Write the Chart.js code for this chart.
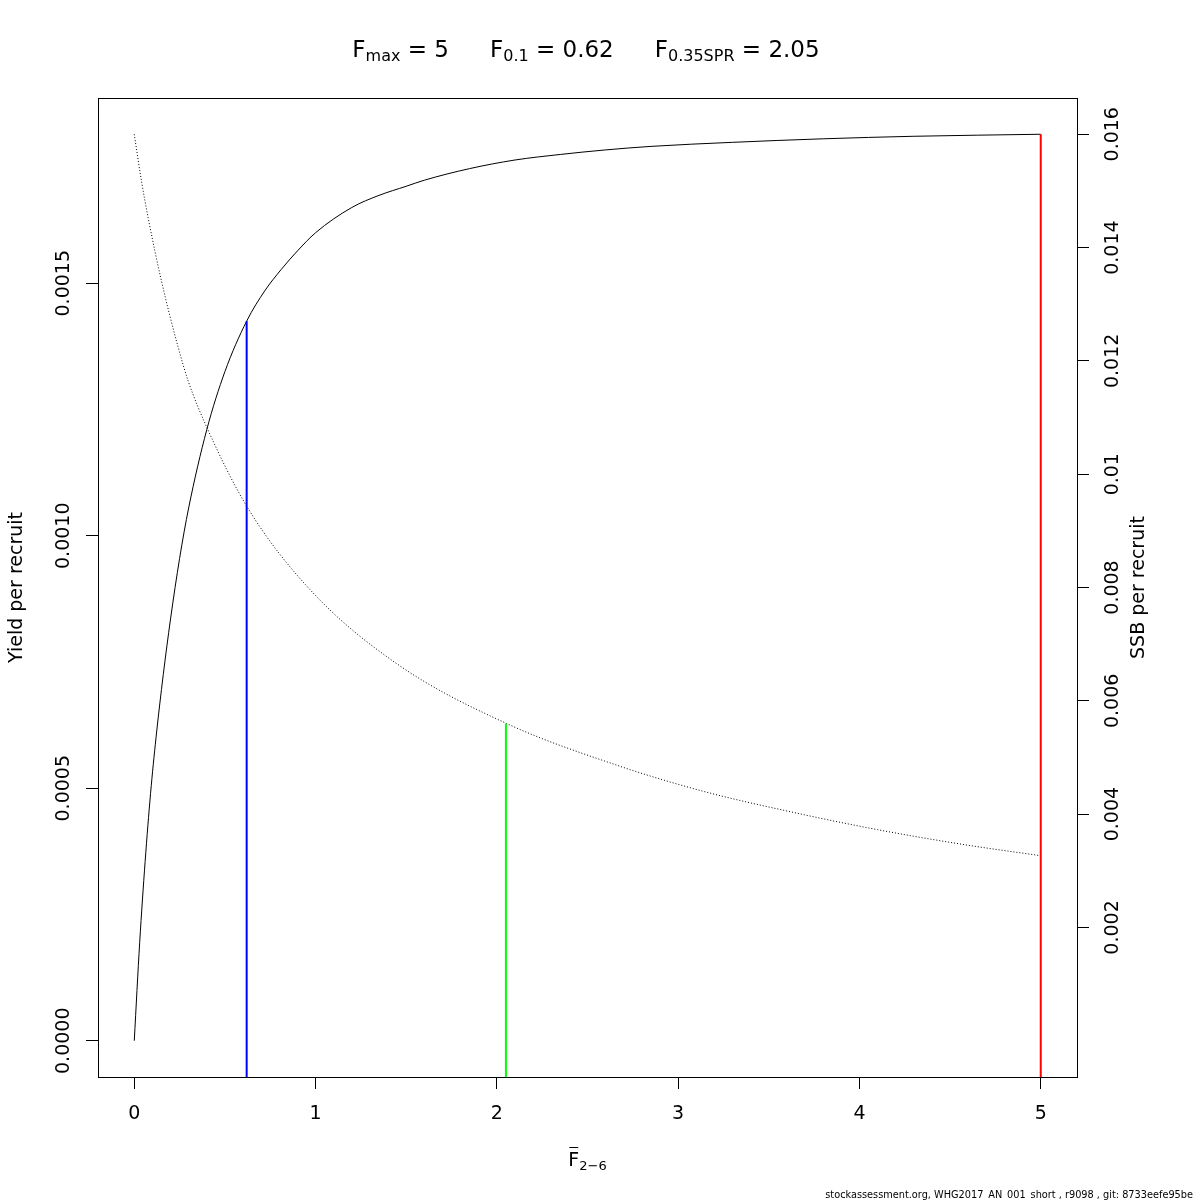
<!DOCTYPE html>
<html>
<head>
<meta charset="utf-8">
<script src="https://cdn.jsdelivr.net/npm/chart.js@4.4.0/dist/chart.umd.min.js"></script>
<style>
html,body{margin:0;padding:0;background:#fff;}
#wrap{width:1200px;height:1200px;position:relative;}
</style>
</head>
<body>
<div id="wrap"><canvas id="c"></canvas></div>
<script>
// ---- data ----
const yieldF    = [0, 0.03, 0.06, 0.09, 0.12, 0.16, 0.2, 0.25, 0.3, 0.4, 0.5, 0.62, 0.72, 0.81, 0.9, 1.0, 1.2, 1.35, 1.5, 1.6, 1.85, 2.1, 2.35, 2.6, 2.85, 3.3, 3.8, 4.3, 5.0];
const yieldVals = [0, 0.000195, 0.000355, 0.000490, 0.000600, 0.000725, 0.000835, 0.000955, 0.001055, 0.001210, 0.001325, 0.001425, 0.001485, 0.001527, 0.001564, 0.001600, 0.001650, 0.001674, 0.001692, 0.001704, 0.001727, 0.001744, 0.001755, 0.001764, 0.001771, 0.001779, 0.001786, 0.001791, 0.001795];
const ssbF      = [0, 0.04, 0.077, 0.15, 0.243, 0.298, 0.397, 0.623, 0.976, 1.45, 2.053, 2.665, 3.142, 3.622, 4.101, 4.581, 5.0];
const ssbVals   = [0.01600, 0.01517, 0.01452, 0.01341, 0.01223, 0.01164, 0.01085, 0.00942, 0.00794, 0.00665, 0.00560, 0.00486, 0.00440, 0.00404, 0.003725, 0.00346, 0.003266];
const refNames  = ['F0.1', 'F0.35SPR', 'Fmax'];
const refF      = [0.62, 2.05, 5];
const refTop    = [0.001425, 0.00560, 0.001795];
const refAxis   = ['y', 'y2', 'y'];
const refColors = ['#0000ff', '#00ff00', '#ff0000'];
const xTicks     = [0, 1, 2, 3, 4, 5];
const yieldTicks = [0, 0.0005, 0.0010, 0.0015];
const ssbTicks   = [0.002, 0.004, 0.006, 0.008, 0.010, 0.012, 0.014, 0.016];
const xRange     = [-0.2, 5.2];
const yRange     = [-0.0000718, 0.0018668];
const y2Range    = [-0.00064, 0.01664];
const footer = 'stockassessment.org, WHG2017_AN_001_short , r9098 , git: 8733eefe95be';

const FONT = 'DejaVu Sans';
const TICK_SIZE = 19;

const mctx = document.createElement('canvas').getContext('2d');
mctx.font = TICK_SIZE + 'px ' + FONT;
const wideL = Math.max(...yieldTicks.map(v => mctx.measureText(v.toFixed(4)).width));
const wideR = Math.max(...ssbTicks.map(v => mctx.measureText(String(+v.toFixed(3))).width));

function pts(xs, ys) { return xs.map((x, i) => ({x: x, y: ys[i]})); }

const datasets = [];
refF.forEach((f, i) => {
  const lo = refAxis[i] === 'y' ? yRange[0] : y2Range[0];
  datasets.push({
    label: refNames[i],
    data: [{x: f, y: lo}, {x: f, y: refTop[i]}],
    yAxisID: refAxis[i],
    borderColor: refColors[i],
    borderWidth: 2,
    pointRadius: 0,
    showLine: true
  });
});
datasets.push({
  label: 'Yield per recruit',
  data: pts(yieldF, yieldVals),
  yAxisID: 'y',
  borderColor: '#000',
  borderWidth: 1,
  pointRadius: 0,
  showLine: true,
  cubicInterpolationMode: 'monotone'
});
datasets.push({
  label: 'SSB per recruit',
  data: pts(ssbF, ssbVals),
  yAxisID: 'y2',
  borderColor: '#000',
  borderWidth: 1,
  borderDash: [1, 2],
  pointRadius: 0,
  showLine: true,
  cubicInterpolationMode: 'monotone'
});

function drawParts(ctx, parts, startX, baseY) {
  let x = startX;
  parts.forEach(p => {
    if (p.gap) { x += p.gap; return; }
    ctx.font = p.size + 'px ' + FONT;
    ctx.fillText(p.t, x, baseY + (p.dy || 0));
    x += ctx.measureText(p.t).width;
  });
}
function partsWidth(ctx, parts) {
  let w = 0;
  parts.forEach(p => {
    if (p.gap) { w += p.gap; return; }
    ctx.font = p.size + 'px ' + FONT;
    w += ctx.measureText(p.t).width;
  });
  return w;
}

const textPlugin = {
  id: 'textPlugin',
  afterDraw(chart) {
    const ctx = chart.ctx;
    const a = chart.chartArea;
    ctx.save();
    ctx.strokeStyle = '#000';
    ctx.lineWidth = 1;
    ctx.strokeRect(Math.round(a.left) + 0.5, Math.round(a.top) + 0.5,
                   Math.round(a.right) - Math.round(a.left), Math.round(a.bottom) - Math.round(a.top));
    ctx.fillStyle = '#000';
    ctx.textAlign = 'left';
    ctx.textBaseline = 'alphabetic';
    const cx = (a.left + a.right) / 2;
    const cy = (a.top + a.bottom) / 2;
    const title = [
      {t: 'F', size: 23}, {t: 'max', size: 16, dy: 4}, {t: ' = 5', size: 23},
      {gap: 41},
      {t: 'F', size: 23}, {t: '0.1', size: 16, dy: 4}, {t: ' = 0.62', size: 23},
      {gap: 41},
      {t: 'F', size: 23}, {t: '0.35SPR', size: 16, dy: 4}, {t: ' = 2.05', size: 23}
    ];
    drawParts(ctx, title, cx - partsWidth(ctx, title) / 2 - 1.5, 57);
    const xt = [{t: 'F', size: 19}, {t: '2\u22126', size: 13, dy: 4}];
    const xs = cx - partsWidth(ctx, xt) / 2;
    drawParts(ctx, xt, xs, 1166);
    ctx.font = '19px ' + FONT;
    const fw = ctx.measureText('F').width;
    ctx.beginPath();
    ctx.moveTo(xs + 1, 1147.5);
    ctx.lineTo(xs + fw - 1, 1147.5);
    ctx.stroke();
    ctx.font = '19px ' + FONT;
    ctx.textAlign = 'center';
    ctx.save();
    ctx.translate(21.5, cy);
    ctx.rotate(-Math.PI / 2);
    ctx.fillText('Yield per recruit', 0, 0);
    ctx.restore();
    ctx.save();
    ctx.translate(1144, cy);
    ctx.rotate(-Math.PI / 2);
    ctx.fillText('SSB per recruit', 0, 0);
    ctx.restore();
    ctx.font = '10px ' + FONT;
    const fwid = ctx.measureText(footer).width;
    const fs = 10 * 368 / fwid;
    ctx.font = fs.toFixed(2) + 'px ' + FONT;
    ctx.textAlign = 'right';
    ctx.fillText(footer, 1193, 1198);
    ctx.restore();
  }
};

const axisCommon = {
  grid: {drawOnChartArea: false, drawTicks: true, tickLength: 12, color: '#000', lineWidth: 1},
  border: {display: false}
};

new Chart(document.getElementById('c'), {
  type: 'scatter',
  data: {datasets: datasets},
  options: {
    responsive: true,
    maintainAspectRatio: false,
    animation: false,
    events: [],
    layout: {padding: {top: 98, left: 0, right: 0, bottom: 0}},
    plugins: {legend: {display: false}, tooltip: {enabled: false}, title: {display: false}},
    scales: {
      x: Object.assign({}, axisCommon, {
        type: 'linear', position: 'bottom',
        min: xRange[0], max: xRange[1],
        afterBuildTicks: s => { s.ticks = xTicks.map(v => ({value: v})); },
        afterFit: s => { s.height = 123; },
        ticks: {autoSkip: false, maxRotation: 0, minRotation: 0, padding: 13.5, color: '#000',
                font: {family: FONT, size: TICK_SIZE}, callback: v => String(v)}
      }),
      y: Object.assign({}, axisCommon, {
        type: 'linear', position: 'left',
        min: yRange[0], max: yRange[1],
        afterBuildTicks: s => { s.ticks = yieldTicks.map(v => ({value: v})); },
        afterFit: s => { s.width = 98; },
        ticks: {autoSkip: false, minRotation: 90, maxRotation: 90, crossAlign: 'center',
                padding: 21.5 - wideL / 2, color: '#000',
                font: {family: FONT, size: TICK_SIZE}, callback: v => Number(v).toFixed(4)}
      }),
      y2: Object.assign({}, axisCommon, {
        type: 'linear', position: 'right',
        min: y2Range[0], max: y2Range[1],
        afterBuildTicks: s => { s.ticks = ssbTicks.map(v => ({value: v})); },
        afterFit: s => { s.width = 123; },
        ticks: {autoSkip: false, minRotation: 90, maxRotation: 90, crossAlign: 'center',
                padding: 24.5 - wideR / 2, color: '#000',
                font: {family: FONT, size: TICK_SIZE}, callback: v => String(+Number(v).toFixed(3))}
      })
    }
  },
  plugins: [textPlugin]
});
</script>
</body>
</html>
